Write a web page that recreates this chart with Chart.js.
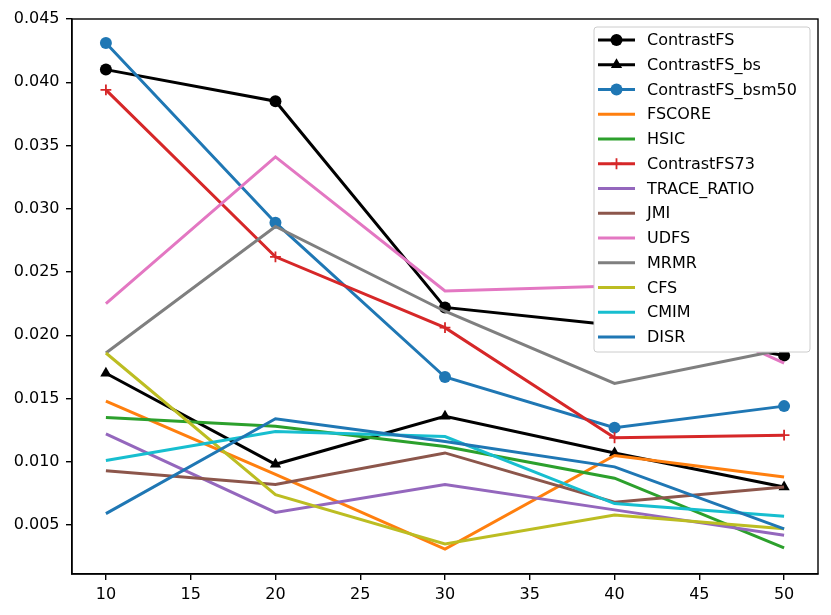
<!DOCTYPE html>
<html><head><meta charset="utf-8">
<script src="https://cdn.jsdelivr.net/npm/chart.js@4/dist/chart.umd.min.js"></script>
<style>html,body{margin:0;padding:0;background:#fff;}#wrap{width:831px;height:615px;}</style>
</head><body><div id="wrap"><canvas id="c" width="831" height="615"></canvas></div>
<script>
const xValues = [10, 20, 30, 40, 50];
const contrastFS      = [0.0410, 0.0385, 0.0222, 0.0208, 0.0184];
const contrastFS_bs   = [0.0170, 0.0098, 0.0136, 0.0107, 0.0080];
const contrastFS_bsm50= [0.0431, 0.0289, 0.0167, 0.0127, 0.0144];
const fscore          = [0.0148, 0.0090, 0.0031, 0.0105, 0.0088];
const hsic            = [0.0135, 0.0128, 0.0112, 0.0087, 0.0032];
const contrastFS73    = [0.0394, 0.0262, 0.0206, 0.0119, 0.0121];
const traceRatio      = [0.0122, 0.0060, 0.0082, 0.0062, 0.0042];
const jmi             = [0.0093, 0.0082, 0.0107, 0.0068, 0.0080];
const udfs            = [0.0225, 0.0341, 0.0235, 0.0239, 0.0178];
const mrmr            = [0.0186, 0.0286, 0.0219, 0.0162, 0.0189];
const cfs             = [0.0186, 0.0074, 0.0035, 0.0058, 0.0047];
const cmim            = [0.0101, 0.0124, 0.0120, 0.0067, 0.0057];
const disr            = [0.0059, 0.0134, 0.0116, 0.0096, 0.0047];
const xTicks = [10, 15, 20, 25, 30, 35, 40, 45, 50];
const yTicks = [0.005, 0.010, 0.015, 0.020, 0.025, 0.030, 0.035, 0.040, 0.045];

const FONT = '"DejaVu Sans", sans-serif';
const LW = 3;
const series = [
  {label:'ContrastFS', data:contrastFS, color:'#000000', marker:'circle', r:6},
  {label:'ContrastFS_bs', data:contrastFS_bs, color:'#000000', marker:'triangle', r:6.5},
  {label:'ContrastFS_bsm50', data:contrastFS_bsm50, color:'#1f77b4', marker:'circle', r:6},
  {label:'FSCORE', data:fscore, color:'#ff7f0e'},
  {label:'HSIC', data:hsic, color:'#2ca02c'},
  {label:'ContrastFS73', data:contrastFS73, color:'#d62728', marker:'cross', r:5.4},
  {label:'TRACE_RATIO', data:traceRatio, color:'#9467bd'},
  {label:'JMI', data:jmi, color:'#8c564b'},
  {label:'UDFS', data:udfs, color:'#e377c2'},
  {label:'MRMR', data:mrmr, color:'#7f7f7f'},
  {label:'CFS', data:cfs, color:'#bcbd22'},
  {label:'CMIM', data:cmim, color:'#17becf'},
  {label:'DISR', data:disr, color:'#1f77b4'}
];
const N = series.length;
const datasets = series.map((s, i) => ({
  label: s.label,
  data: xValues.map((x, j) => ({x: x, y: s.data[j]})),
  borderColor: s.color,
  backgroundColor: s.color,
  borderWidth: LW,
  pointStyle: s.marker || 'circle',
  pointRadius: s.marker ? s.r : 0,
  pointBorderWidth: s.marker === 'cross' ? 1.8 : 0,
  pointBorderColor: s.color,
  pointBackgroundColor: s.color,
  pointHoverRadius: s.marker ? s.r : 0,
  tension: 0,
  fill: false,
  order: N - i,
  _marker: s.marker, _r: s.r
}));

const framePlugin = {
  id: 'frame',
  afterDatasetsDraw(chart) {
    const a = chart.chartArea, ctx = chart.ctx;
    ctx.save();
    ctx.strokeStyle = '#000'; ctx.lineWidth = 1.4;
    ctx.strokeRect(a.left, a.top, a.right - a.left, a.bottom - a.top);
    ctx.restore();
  }
};

const legendPlugin = {
  id: 'mplLegend',
  afterDraw(chart) {
    const ctx = chart.ctx;
    const L = 594, T = 27, R = 810, B = 352, rad = 3;
    ctx.save();
    ctx.beginPath();
    ctx.moveTo(L + rad, T); ctx.lineTo(R - rad, T); ctx.quadraticCurveTo(R, T, R, T + rad);
    ctx.lineTo(R, B - rad); ctx.quadraticCurveTo(R, B, R - rad, B);
    ctx.lineTo(L + rad, B); ctx.quadraticCurveTo(L, B, L, B - rad);
    ctx.lineTo(L, T + rad); ctx.quadraticCurveTo(L, T, L + rad, T);
    ctx.closePath();
    ctx.fillStyle = '#ffffff'; ctx.fill();
    ctx.strokeStyle = '#cccccc'; ctx.lineWidth = 1; ctx.stroke();
    chart.data.datasets.forEach((ds, i) => {
      const y = 40 + i * 24.75;
      ctx.strokeStyle = ds.borderColor; ctx.lineWidth = LW; ctx.lineCap = 'butt';
      ctx.beginPath(); ctx.moveTo(598, y); ctx.lineTo(635, y); ctx.stroke();
      if (ds._marker) {
        ctx.fillStyle = ds.borderColor; ctx.strokeStyle = ds.borderColor;
        ctx.lineWidth = ds._marker === 'cross' ? 1.8 : 1;
        Chart.helpers.drawPoint(ctx, {
          pointStyle: ds._marker, radius: ds._r, rotation: 0,
          borderWidth: ds._marker === 'cross' ? 1.8 : 0
        }, 616.5, y);
      }
      ctx.fillStyle = '#000';
      ctx.font = '16px ' + FONT;
      ctx.textBaseline = 'middle'; ctx.textAlign = 'left';
      ctx.fillText(ds.label, 647, y + 1);
    });
    ctx.restore();
  }
};

new Chart(document.getElementById('c'), {
  type: 'line',
  data: { datasets: datasets },
  options: {
    responsive: false,
    animation: false,
    devicePixelRatio: 1,
    layout: { padding: { left: 0, top: 19, right: 13, bottom: 0 } },
    plugins: { legend: { display: false }, tooltip: { enabled: false } },
    scales: {
      x: {
        type: 'linear', min: 8, max: 52,
        afterBuildTicks: s => { s.ticks = xTicks.map(v => ({value: v})); },
        afterFit: s => { s.height = 41; },
        grid: { display: true, drawOnChartArea: false, drawTicks: true, tickLength: 6, color: '#000', lineWidth: 1.4 },
        border: { display: true, color: '#000', width: 1.4 },
        ticks: { color: '#000', font: { family: FONT, size: 16 }, padding: 5, maxRotation: 0, autoSkip: false, callback: v => String(v) }
      },
      y: {
        type: 'linear', min: 0.00113, max: 0.045,
        afterBuildTicks: s => { s.ticks = yTicks.map(v => ({value: v})); },
        afterFit: s => { s.width = 72; },
        grid: { display: true, drawOnChartArea: false, drawTicks: true, tickLength: 6, color: '#000', lineWidth: 1.4 },
        border: { display: true, color: '#000', width: 1.4 },
        ticks: { color: '#000', font: { family: FONT, size: 16 }, padding: 6.5, autoSkip: false, callback: v => v.toFixed(3) }
      }
    }
  },
  plugins: [framePlugin, legendPlugin]
});
</script></body></html>
